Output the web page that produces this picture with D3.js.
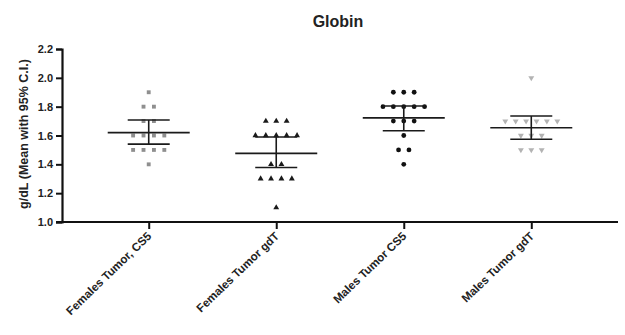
<!DOCTYPE html>
<html>
<head>
<meta charset="utf-8">
<script src="https://cdn.jsdelivr.net/npm/d3@7"></script>
<style>
  body { margin: 0; background: #fff; }
  svg text { font-family: Arial, "Liberation Sans", sans-serif; font-weight: bold; fill: #222; }
</style>
</head>
<body>
<svg width="625" height="335"></svg>
<script>
// data
const groups = ["Females Tumor, CS5", "Females Tumor gdT", "Males Tumor CS5", "Males Tumor gdT"];
const femCS5 = [1.9, 1.8, 1.8, 1.7, 1.7, 1.6, 1.6, 1.6, 1.6, 1.5, 1.5, 1.5, 1.5, 1.4];
const femGdT = [1.7, 1.7, 1.7, 1.6, 1.6, 1.6, 1.6, 1.6, 1.4, 1.4, 1.3, 1.3, 1.3, 1.3, 1.1];
const maleCS5 = [1.9, 1.9, 1.9, 1.8, 1.8, 1.8, 1.8, 1.8, 1.7, 1.7, 1.7, 1.6, 1.5, 1.5, 1.4];
const maleGdT = [2.0, 1.7, 1.7, 1.7, 1.7, 1.7, 1.7, 1.6, 1.6, 1.6, 1.5, 1.5, 1.5];
const means = [1.62, 1.476, 1.722, 1.654];
const ciLow = [1.54, 1.378, 1.633, 1.574];
const ciHigh = [1.707, 1.59, 1.805, 1.735];
const yTicks = [1.0, 1.2, 1.4, 1.6, 1.8, 2.0, 2.2];

const series = [femCS5, femGdT, maleCS5, maleGdT];
const colors = ["#8f8f8f", "#1a1a1a", "#111", "#b3b3b3"];
const shapes = [d3.symbolSquare, d3.symbolTriangle, d3.symbolCircle, d3.symbolTriangle];

const svg = d3.select("svg");
const m = { left: 62, right: 618, top: 49, bottom: 222 };

const x = d3.scalePoint().domain(groups).range([m.left, m.right]).padding(0.68);
const y = d3.scaleLinear().domain([1.0, 2.2]).range([m.bottom, m.top]);

svg.append("text")
  .attr("x", 338).attr("y", 27)
  .attr("text-anchor", "middle")
  .style("font-size", "16px")
  .text("Globin");

// y axis
const yAxis = svg.append("g")
  .attr("transform", `translate(${m.left},0)`)
  .call(d3.axisLeft(y).tickValues(yTicks).tickFormat(d3.format(".1f")).tickSize(6).tickPadding(3));
yAxis.select(".domain").attr("stroke", "#111").attr("stroke-width", 2.2);
yAxis.selectAll(".tick line").attr("stroke", "#111").attr("stroke-width", 2);
yAxis.selectAll(".tick text").style("font-size", "11px").attr("fill", "#222");

svg.append("text")
  .attr("transform", `translate(28,134) rotate(-90)`)
  .attr("text-anchor", "middle")
  .style("font-size", "12.5px")
  .text("g/dL (Mean with 95% C.I.)");

// x axis
const xAxis = svg.append("g")
  .attr("transform", `translate(0,${m.bottom})`)
  .call(d3.axisBottom(x).tickSize(7).tickSizeOuter(0));
xAxis.select(".domain").attr("stroke", "#111").attr("stroke-width", 2.2)
  .attr("d", `M${m.left - 6},0H${m.right}`);
xAxis.selectAll(".tick line").attr("stroke", "#111").attr("stroke-width", 2);
xAxis.selectAll(".tick text")
  .style("font-size", "11.6px")
  .attr("text-anchor", "end")
  .attr("dy", 0)
  .attr("y", 0)
  .attr("transform", "translate(3,15) rotate(-44)");

// points, spread sideways within each row
const spacing = 10.4;
series.forEach((vals, gi) => {
  const rows = d3.groups(vals, v => v);
  const pts = [];
  rows.forEach(([v, arr]) => {
    arr.forEach((_, i) => pts.push({ v, off: (i - (arr.length - 1) / 2) * spacing }));
  });
  svg.append("g").selectAll("path")
    .data(pts)
    .join("path")
    .attr("d", d3.symbol().type(shapes[gi]).size(gi === 2 ? 18 : 15))
    .attr("transform", d => `translate(${x(groups[gi]) + d.off},${y(d.v)})` + (gi === 3 ? " rotate(180)" : ""))
    .attr("fill", colors[gi]);
});

// mean and CI bars
const bars = svg.append("g").attr("stroke", "#1a1a1a").attr("stroke-width", 1.6);
groups.forEach((g, i) => {
  const cx = x(g);
  bars.append("line").attr("x1", cx - 41).attr("x2", cx + 41).attr("y1", y(means[i])).attr("y2", y(means[i]));
  bars.append("line").attr("x1", cx).attr("x2", cx).attr("y1", y(ciLow[i])).attr("y2", y(ciHigh[i]));
  bars.append("line").attr("x1", cx - 21).attr("x2", cx + 21).attr("y1", y(ciLow[i])).attr("y2", y(ciLow[i]));
  bars.append("line").attr("x1", cx - 21).attr("x2", cx + 21).attr("y1", y(ciHigh[i])).attr("y2", y(ciHigh[i]));
});
</script>
</body>
</html>
